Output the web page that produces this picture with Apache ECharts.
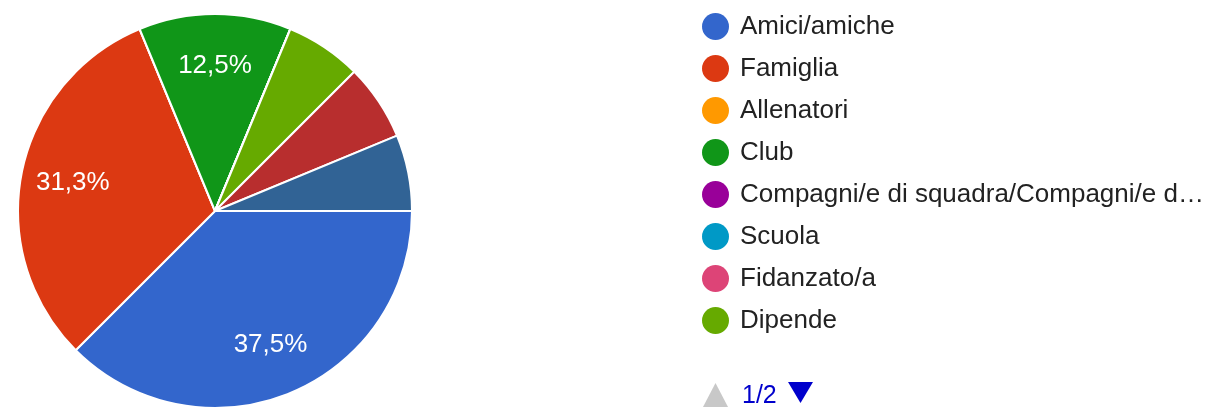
<!DOCTYPE html>
<html>
<head>
<meta charset="utf-8">
<script src="https://cdn.jsdelivr.net/npm/echarts@6/dist/echarts.min.js"></script>
<style>
html,body{margin:0;padding:0;background:#fff;}
#main{width:1213px;height:407px;}
</style>
</head>
<body>
<div id="main"></div>
<script>
var categories = ['Amici/amiche', 'Famiglia', 'Allenatori', 'Club', 'Compagni/e di squadra/Compagni/e di allenamento', 'Scuola', 'Fidanzato/a', 'Dipende', 'Nessuno', 'Altro'];
var counts = [6, 5, 0, 2, 0, 0, 0, 1, 1, 1];
var colors = ['#3366cc', '#dc3912', '#ff9900', '#109618', '#990099', '#0099c6', '#dd4477', '#66aa00', '#b82e2e', '#316395'];
var legendPageSize = 8;
var legendPage = 1;

var FONT = '"Liberation Sans", Arial, sans-serif';
var total = counts.reduce(function (a, b) { return a + b; }, 0);
var pieData = categories.map(function (c, i) { return { name: c, value: counts[i] }; });
var pageCount = Math.ceil(categories.length / legendPageSize);
var pageItems = categories.slice((legendPage - 1) * legendPageSize, legendPage * legendPageSize);

var chart = echarts.init(document.getElementById('main'), null, { renderer: 'canvas' });
chart.setOption({
  animation: false,
  color: colors,
  legend: {
    type: 'plain',
    orient: 'vertical',
    left: 702,
    top: 13,
    padding: 0,
    icon: 'circle',
    itemWidth: 27,
    itemHeight: 27,
    itemGap: 15,
    itemStyle: { borderWidth: 0 },
    data: pageItems,
    textStyle: {
      fontFamily: FONT,
      fontSize: 26,
      color: '#222',
      width: 470,
      overflow: 'truncate',
      ellipsis: '…',
      padding: [0, 0, 0, 6]
    }
  },
  graphic: [
    {
      type: 'polygon',
      silent: true,
      shape: { points: [[703, 407], [728, 407], [715.5, 383]] },
      style: { fill: legendPage > 1 ? '#0000cc' : '#c8c8c8' }
    },
    {
      type: 'text',
      silent: true,
      left: 742,
      top: 384,
      style: {
        text: legendPage + '/' + pageCount,
        fontFamily: FONT,
        fontSize: 25,
        fill: '#0000cc'
      }
    },
    {
      type: 'polygon',
      silent: true,
      shape: { points: [[788, 382], [813, 382], [800.5, 403]] },
      style: { fill: legendPage < pageCount ? '#0000cc' : '#c8c8c8' }
    }
  ],
  series: [
    {
      type: 'pie',
      center: [215, 211],
      radius: [0, 197],
      startAngle: 0,
      clockwise: true,
      avoidLabelOverlap: false,
      silent: true,
      itemStyle: { borderColor: '#fff', borderWidth: 2 },
      label: { show: false },
      labelLine: { show: false },
      emphasis: { disabled: true },
      data: pieData
    },
    {
      type: 'pie',
      center: [215, 211],
      radius: [87, 197],
      startAngle: 0,
      clockwise: true,
      avoidLabelOverlap: false,
      silent: true,
      itemStyle: { color: 'rgba(0,0,0,0)', borderWidth: 0 },
      label: {
        show: true,
        position: 'inside',
        fontFamily: FONT,
        fontSize: 26,
        color: '#fff',
        formatter: function (p) {
          var pct = p.value / total * 100;
          if (pct < 10) return '';
          return pct.toFixed(1).replace('.', ',') + '%';
        }
      },
      labelLine: { show: false },
      emphasis: { disabled: true },
      data: pieData
    }
  ]
});
</script>
</body>
</html>
